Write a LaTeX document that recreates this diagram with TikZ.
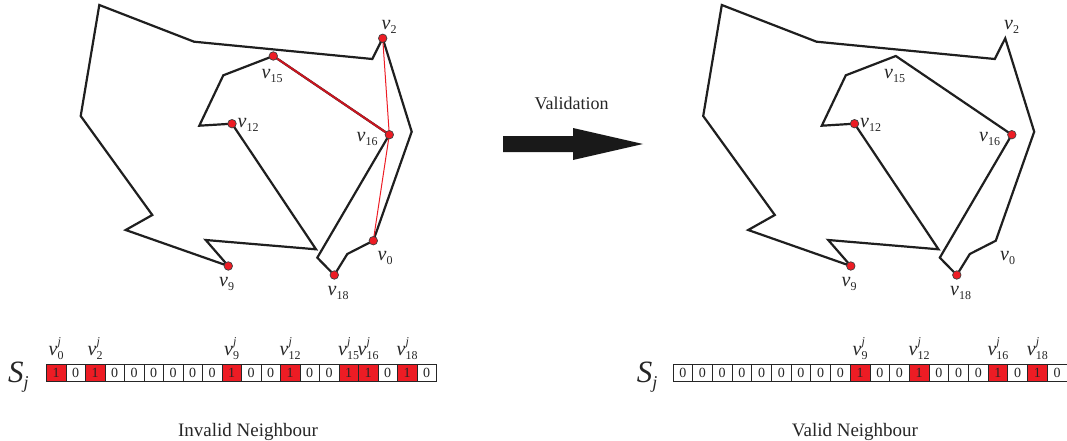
\documentclass[tikz,border=0pt]{standalone}
\usepackage{fontspec}
\setmainfont{Liberation Serif}
\definecolor{cred}{RGB}{237,28,36}
\definecolor{dred}{RGB}{200,22,32}
\newcommand{\vsub}[1]{\textit{v}\raisebox{-4pt}{\fontsize{12}{12}\selectfont #1}}
\newcommand{\vsj}[1]{\textit{v}\rlap{\raisebox{10pt}{\fontsize{12}{12}\selectfont\textit{j}}}\raisebox{-4.3pt}{\fontsize{12}{12}\selectfont #1}}
\newcommand{\polycoords}[1]{%
  \coordinate (#1a1) at (99.3,5);
  \coordinate (#1a2) at (194,41.7);
  \coordinate (#1a3) at (372.3,59);
  \coordinate (#1v2) at (382.7,38.3);
  \coordinate (#1a4) at (411.7,131.7);
  \coordinate (#1v0) at (373.3,240.7);
  \coordinate (#1a5) at (347.3,254);
  \coordinate (#1v18) at (334.3,275);
  \coordinate (#1a6) at (317.3,257.7);
  \coordinate (#1v16) at (389.3,134.7);
  \coordinate (#1v15) at (273.3,56);
  \coordinate (#1a7) at (223.3,75.3);
  \coordinate (#1a8) at (199.3,125.7);
  \coordinate (#1v12) at (232,123.7);
  \coordinate (#1a9) at (316,249.3);
  \coordinate (#1a10) at (205.7,240);
  \coordinate (#1v9) at (228.3,266);
  \coordinate (#1a11) at (125.7,230);
  \coordinate (#1a12) at (152.3,215);
  \coordinate (#1a13) at (80.7,116);
  \coordinate (#1l2) at (381.5,29.5);
  \coordinate (#1l15) at (261.5,79);
  \coordinate (#1l12) at (237.5,128);
  \coordinate (#1l16) at (356.5,141.5);
  \coordinate (#1l0) at (377.5,260.5);
  \coordinate (#1l9) at (219,286.5);
  \coordinate (#1l18) at (327.5,295);
}
\newcommand{\polydraw}[1]{%
  \draw[poly] (#1a1) -- (#1a2) -- (#1a3) -- (#1v2) -- (#1a4) -- (#1v0) -- (#1a5) -- (#1v18) -- (#1a6) -- (#1v16) -- (#1v15) -- (#1a7) -- (#1a8) -- (#1v12) -- (#1a9) -- (#1a10) -- (#1v9) -- (#1a11) -- (#1a12) -- (#1a13) -- cycle;
}
\tikzset{
  poly/.style={line width=2.2pt, line join=miter, draw=black!88},
  dot/.style={circle, fill=cred, draw=black!75, line width=0.7pt, inner sep=0pt, minimum size=8.5pt},
  lbl/.style={font=\fontsize{20}{20}\selectfont, inner sep=0pt, anchor=base west, text=black!85},
  clbl/.style={font=\fontsize{20}{20}\selectfont, inner sep=0pt, anchor=base, text=black!85},
  cell/.style={draw=black!85, line width=0.8pt, minimum height=17pt, inner sep=0pt, font=\fontsize{14}{14}\selectfont, anchor=north west, text=black!85},
  bit0/.style={cell},
  bit1/.style={cell, fill=cred},
  caption/.style={font=\fontsize{19}{19}\selectfont, inner sep=0pt, anchor=base, text=black!85},
  sj/.style={font=\fontsize{31}{31}\selectfont\itshape, inner sep=0pt, anchor=base west, text=black!85}
}
\begin{document}
\begin{tikzpicture}[x=1pt,y=-1pt]
\useasboundingbox (0,0) rectangle (1067,441);
% left polygon
\polycoords{L}
\polydraw{L}
\draw[dred, line width=2pt] (Lv15) -- (Lv16);
\draw[cred, line width=1pt] (Lv2) -- (Lv16) -- (Lv0);
\foreach \n in {2,15,12,16,0,9,18} {\node[dot] (Ld\n) at (Lv\n) {};}
\foreach \n in {2,15,12,16,0,9,18} {\node[lbl] (Lt\n) at (Ll\n) {\vsub{\n}};}
% right polygon
\begin{scope}[xshift=622.5pt]
\polycoords{R}
\end{scope}
\polydraw{R}
\foreach \n in {12,16,9,18} {\node[dot] (Rd\n) at (Rv\n) {};}
\foreach \n in {2,15,12,16,0,9,18} {\node[lbl] (Rt\n) at (Rl\n) {\vsub{\n}};}
% arrow
\fill[black!90] (503,136) -- (573,136) -- (573,128) -- (643,144) -- (573,160) -- (573,152) -- (503,152) -- cycle;
\node[caption, font=\fontsize{18}{18}\selectfont] (val) at (571.7,110) {Validation};
% left string
\node[sj] (LS) at (8,382.7) {S\raisebox{-5.5pt}{\fontsize{18}{18}\selectfont j}};
\foreach \b [count=\i from 0] in {1,0,1,0,0,0,0,0,0,1,0,0,1,0,0,1,1,0,1,0} {
  \node[bit\b, minimum width=19.5pt] (Lc\i) at ({46+19.5*\i},364) {\b};
}
\foreach \n in {0,2,9,12,15,16,18} {\node[clbl] (Lh\n) at ([yshift=9pt]Lc\n.north) {\vsj{\n}};}
% right string
\node[sj] (RS) at (636.7,382.7) {S\raisebox{-5.5pt}{\fontsize{18}{18}\selectfont j}};
\foreach \b [count=\i from 0] in {0,0,0,0,0,0,0,0,0,1,0,0,1,0,0,0,1,0,1,0} {
  \node[bit\b, minimum width=19.7pt] (Rc\i) at ({672.5+19.7*\i},364) {\b};
}
\foreach \n in {9,12,16,18} {\node[clbl] (Rh\n) at ([yshift=9pt]Rc\n.north) {\vsj{\n}};}
% captions
\node[caption] (capL) at (248,436) {Invalid Neighbour};
\node[caption] (capR) at (855,436) {Valid Neighbour};
\end{tikzpicture}
\end{document}
